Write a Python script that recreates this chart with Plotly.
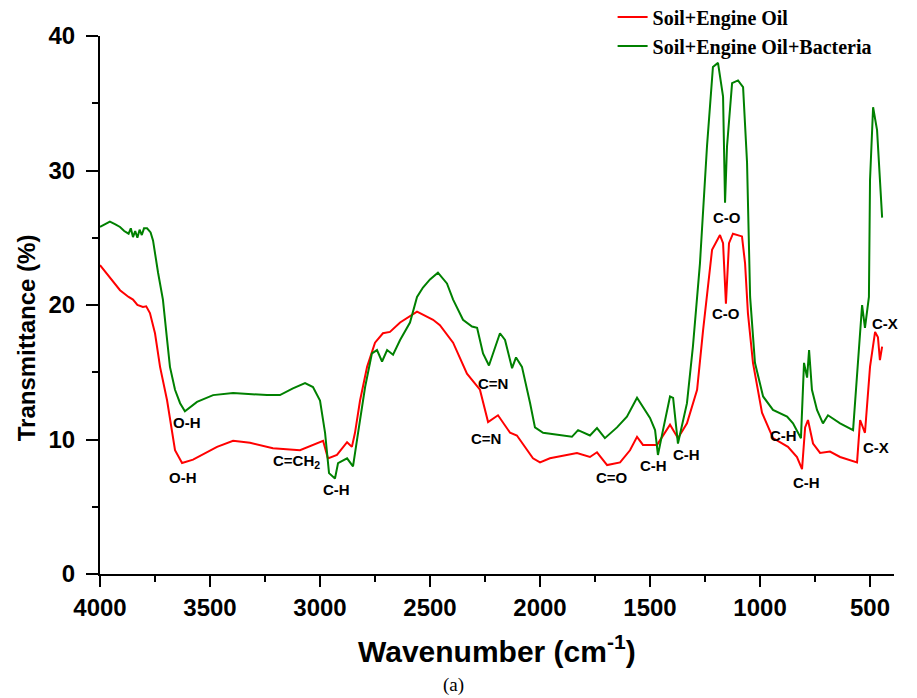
import plotly.graph_objects as go

# ---- data ----
wn_oil = [4000, 3909, 3870, 3850, 3830, 3805, 3790, 3773, 3750, 3727, 3695, 3673, 3659, 3627,
          3577, 3468, 3395, 3318, 3214, 3091, 3032, 2986, 2964, 2923, 2877, 2855, 2841,
          2818, 2786, 2750, 2714, 2682, 2636, 2559, 2486, 2455, 2395, 2332, 2273, 2236,
          2191, 2136, 2105, 2032, 2000, 1955, 1832, 1773, 1741, 1695, 1636, 1591, 1559,
          1532, 1468, 1441, 1409, 1373, 1332, 1286, 1259, 1218, 1182, 1168, 1155, 1141,
          1123, 1082, 1068, 1055, 1032, 991, 941, 873, 832, 809, 795, 782, 759, 727, 682,
          636, 559, 545, 523, 500, 477, 464, 455, 445]
t_oil = [22.97, 21.1, 20.6, 20.4, 20.0, 19.85, 19.9, 19.4, 17.9, 15.4, 12.9, 10.5, 9.2, 8.25,
         8.5, 9.45, 9.9, 9.75, 9.35, 9.2, 9.6, 9.9, 8.6, 8.85, 9.8, 9.45, 10.5,
         12.9, 15.4, 17.2, 17.9, 18.0, 18.7, 19.5, 18.9, 18.5, 17.2, 14.9, 13.7, 11.3,
         11.8, 10.5, 10.3, 8.6, 8.3, 8.6, 9.0, 8.7, 9.05, 8.1, 8.3, 9.2, 10.2,
         9.6, 9.6, 10.3, 11.1, 10.1, 11.2, 13.7, 18.1, 24.1, 25.2, 24.6, 20.1, 24.6,
         25.3, 25.1, 23.1, 19.4, 15.7, 12.0, 10.1, 9.45, 8.7, 7.8, 10.9, 11.45, 9.7, 9.0,
         9.1, 8.7, 8.3, 11.45, 10.5, 15.4, 18.0, 17.6, 15.9, 16.9]

wn_bac = [4000, 3955, 3930, 3909, 3890, 3870, 3860, 3850, 3840, 3830, 3820, 3810, 3800, 3786,
          3770, 3759, 3736, 3714, 3695, 3682, 3659, 3636, 3614, 3559, 3486, 3395, 3241,
          3182, 3123, 3068, 3032, 3000, 2977, 2959, 2932, 2918, 2877, 2850, 2827, 2795,
          2764, 2741, 2718, 2695, 2668, 2636, 2591, 2559, 2532, 2500, 2464, 2423, 2395,
          2350, 2309, 2286, 2259, 2232, 2205, 2182, 2159, 2127, 2109, 2082, 2045, 2023,
          1986, 1909, 1855, 1827, 1773, 1741, 1705, 1650, 1605, 1559, 1532, 1500, 1477,
          1464, 1441, 1409, 1395, 1373, 1332, 1305, 1273, 1241, 1214, 1191, 1168, 1159,
          1150, 1127, 1100, 1077, 1059, 1045, 1023, 986, 941, 877, 850, 814, 800, 786,
          777, 764, 741, 714, 691, 636, 577, 555, 536, 523, 505, 500, 486, 468, 445]
t_bac = [25.8, 26.2, 26.0, 25.8, 25.5, 25.3, 25.7, 25.05, 25.5, 25.0, 25.6, 25.2, 25.7, 25.7,
         25.4, 24.8, 22.4, 20.4, 17.4, 15.4, 13.7, 12.7, 12.1, 12.8, 13.3, 13.45, 13.3,
         13.3, 13.8, 14.2, 13.9, 12.9, 10.5, 7.5, 7.1, 8.25, 8.6, 8.0, 10.5, 13.9,
         16.4, 16.65, 15.8, 16.65, 16.3, 17.4, 18.7, 20.6, 21.3, 21.9, 22.4, 21.6, 20.4,
         18.9, 18.4, 18.3, 16.4, 15.5, 16.8, 17.9, 17.4, 15.3, 16.1, 15.4, 12.7, 10.9,
         10.5, 10.3, 10.2, 10.7, 10.3, 10.85, 10.1, 10.9, 11.7, 13.1, 12.4, 11.6, 10.7,
         8.85, 10.7, 13.2, 13.1, 9.7, 12.7, 16.9, 23.1, 31.8, 37.7, 38.0, 35.5, 27.6,
         31.8, 36.5, 36.7, 36.2, 30.6, 20.6, 15.7, 13.2, 12.2, 11.7, 11.2, 10.1, 15.7, 14.6,
         16.65, 13.7, 12.2, 11.2, 11.8, 11.2, 10.7, 15.7, 20.0, 18.3, 20.6, 29.3, 34.7, 33.0, 26.5]

x_ticks = [4000, 3500, 3000, 2500, 2000, 1500, 1000, 500]
y_ticks = [0, 10, 20, 30, 40]

# peak labels: (text, wavenumber, transmittance)
labels = [
    ("O-H", 3605, 11.3), ("O-H", 3623, 7.2), ("C=CH<sub>2</sub>", 3105, 8.4),
    ("C-H", 2927, 6.3), ("C=N", 2214, 14.2), ("C=N", 2245, 10.1),
    ("C=O", 1673, 7.2), ("C-H", 1482, 8.1), ("C-H", 1336, 8.9),
    ("C-O", 1150, 26.5), ("C-O", 1155, 19.4), ("C-H", 895, 10.3),
    ("C-H", 791, 6.8), ("C-X", 432, 18.6), ("C-X", 473, 9.4),
]

SANS = "Liberation Sans, Arial"
SERIF = "Liberation Serif, Times New Roman"

fig = go.Figure()
fig.add_trace(go.Scatter(x=wn_oil, y=t_oil, mode="lines", name="Soil+Engine Oil",
                         line=dict(color="#ff0000", width=2)))
fig.add_trace(go.Scatter(x=wn_bac, y=t_bac, mode="lines", name="Soil+Engine Oil+Bacteria",
                         line=dict(color="#008000", width=2)))

ann = []
for txt, x, y in labels:
    ann.append(dict(text=txt, x=x, y=y, xref="x", yref="y", showarrow=False,
                    xanchor="center", yanchor="middle",
                    font=dict(family=SANS, size=15, color="black", weight="bold")))
ann.append(dict(text="Wavenumber (cm<sup>-1</sup>)", x=0.5, y=-0.14, xref="paper", yref="paper",
                xanchor="center", yanchor="middle",
                showarrow=False, font=dict(family=SANS, size=30, color="black", weight="bold")))
ann.append(dict(text="Transmittance (%)", x=-0.0932, y=0.44, xref="paper", yref="paper", textangle=-90,
                xanchor="center", yanchor="middle",
                showarrow=False, font=dict(family=SANS, size=24, color="black", weight="bold")))
ann.append(dict(text="(a)", x=0.4446, y=-0.206, xref="paper", yref="paper", showarrow=False,
                xanchor="center", yanchor="middle",
                font=dict(family=SERIF, size=19, color="black")))

fig.update_layout(
    width=917, height=698,
    margin=dict(l=92, r=31, t=28, b=132, autoexpand=False),
    paper_bgcolor="white", plot_bgcolor="white",
    annotations=ann,
    legend=dict(x=0.6456, y=1.0716, xanchor="left", yanchor="top",
                bgcolor="rgba(0,0,0,0)",
                font=dict(family=SERIF, size=20, color="black", weight="bold"),
                tracegroupgap=0, itemwidth=30),
    showlegend=True,
)
fig.update_xaxes(range=[4000, 391], tickvals=x_ticks, ticks="outside", ticklen=11, tickwidth=2,
                 showline=True, linecolor="black", linewidth=2, showgrid=False, zeroline=False,
                 automargin=False,
                 tickfont=dict(family=SANS, size=24, color="black", weight="bold"),
                 minor=dict(dtick=250, tick0=0, ticks="outside", ticklen=6, tickwidth=2, tickcolor="black", showgrid=False),
                 tickcolor="black")
fig.update_yaxes(range=[0, 40], tickvals=y_ticks, ticks="outside", ticklen=12, tickwidth=2,
                 showline=True, linecolor="black", linewidth=2, showgrid=False, zeroline=False,
                 automargin=False,
                 tickfont=dict(family=SANS, size=24, color="black", weight="bold"),
                 minor=dict(dtick=5, tick0=0, ticks="outside", ticklen=6, tickwidth=2, tickcolor="black", showgrid=False),
                 tickcolor="black", ticklabelstandoff=6)

fig.write_html("out.html")
